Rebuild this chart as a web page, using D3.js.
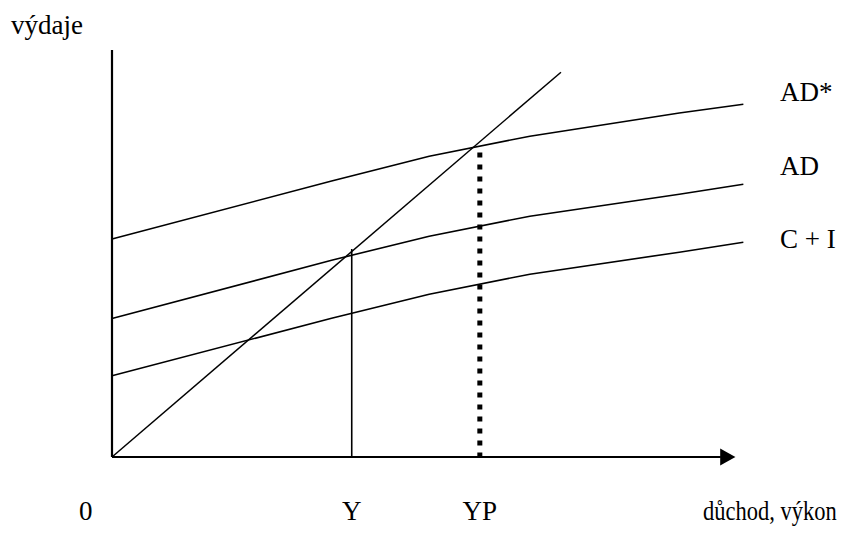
<!DOCTYPE html>
<html>
<head>
<meta charset="utf-8">
<script src="https://cdn.jsdelivr.net/npm/d3@7"></script>
<style>
  body { margin: 0; background: #fff; }
  text { font-family: "Liberation Serif", "Times New Roman", serif; fill: #000; }
</style>
</head>
<body>
<div id="chart"></div>
<script>
// income (x) sampled along the curves, and expenditure (y) of each curve
const income = [0, 36, 52, 68.5, 93, 103.5];
const ciValues = [20.3, 34.7, 40.7, 45.7, 51.2, 53.7];
const adValues = [34.6, 49.2, 55.2, 60.2, 65.7, 68.2];
const adStarValues = [54.5, 69, 75.2, 80.2, 86, 88.2];
const curveLabels = ["AD*", "AD", "C + I"];

// 45 degree line and the two equilibrium marks
const diagonal = [[0, 0], [73.6, 96.2]];
const equilibrium = { x: 39.3, top: 52 };
const potential = { x: 60.3, top: 76.1 };
const xTickLabels = [{ x: -4.3, t: "0" }, { x: 39.3, t: "Y" }, { x: 60.3, t: "YP" }];

const width = 847, height = 533;

const svg = d3.select("#chart").append("svg")
  .attr("width", width)
  .attr("height", height);

const x = d3.scaleLinear().domain([0, 100]).range([112, 722]);
const y = d3.scaleLinear().domain([0, 100]).range([457, 57]);

const line = d3.line()
  .x(d => x(d[0]))
  .y(d => y(d[1]));

// curves
const series = [adStarValues, adValues, ciValues];
svg.selectAll(".curve")
  .data(series).enter().append("path")
  .attr("class", "curve")
  .attr("d", vals => line(income.map((v, i) => [v, vals[i]])))
  .attr("fill", "none")
  .attr("stroke", "#000")
  .attr("stroke-width", 1.6);

svg.append("path")
  .attr("d", line(diagonal))
  .attr("fill", "none")
  .attr("stroke", "#000")
  .attr("stroke-width", 1.5);

// Y solid, YP dotted
svg.append("line")
  .attr("x1", x(equilibrium.x)).attr("x2", x(equilibrium.x))
  .attr("y1", y(0)).attr("y2", y(equilibrium.top))
  .attr("stroke", "#000")
  .attr("stroke-width", 1.6);

svg.append("line")
  .attr("x1", x(potential.x)).attr("x2", x(potential.x))
  .attr("y1", y(potential.top)).attr("y2", y(0))
  .attr("stroke", "#000")
  .attr("stroke-width", 5)
  .attr("stroke-dasharray", "5,7");

// axes
svg.append("line")
  .attr("x1", x(0)).attr("x2", x(0))
  .attr("y1", y(0)).attr("y2", y(101.75))
  .attr("stroke", "#000")
  .attr("stroke-width", 2.2);

svg.append("line")
  .attr("x1", x(0)).attr("x2", x(99.8))
  .attr("y1", y(0)).attr("y2", y(0))
  .attr("stroke", "#000")
  .attr("stroke-width", 2.2);

svg.append("path")
  .attr("d", "M" + x(99.7) + "," + (y(0) - 8.5) + "L" + x(102.2) + "," + y(0) + "L" + x(99.7) + "," + (y(0) + 8.5) + "Z")
  .attr("fill", "#000");

// labels
svg.append("text")
  .attr("x", 11).attr("y", 34)
  .attr("font-size", 27)
  .text("výdaje");

svg.selectAll(".curve-label")
  .data(curveLabels).enter().append("text")
  .attr("class", "curve-label")
  .attr("x", 780)
  .attr("y", (d, i) => [101, 175, 248][i])
  .attr("font-size", 27)
  .text(d => d);

svg.selectAll(".x-label")
  .data(xTickLabels).enter().append("text")
  .attr("class", "x-label")
  .attr("x", d => x(d.x))
  .attr("y", 520)
  .attr("text-anchor", "middle")
  .attr("font-size", 27)
  .text(d => d.t);

svg.append("text")
  .attr("transform", "translate(703,520) scale(1,1.2)")
  .attr("font-size", 22.5)
  .text("důchod, výkon");
</script>
</body>
</html>
